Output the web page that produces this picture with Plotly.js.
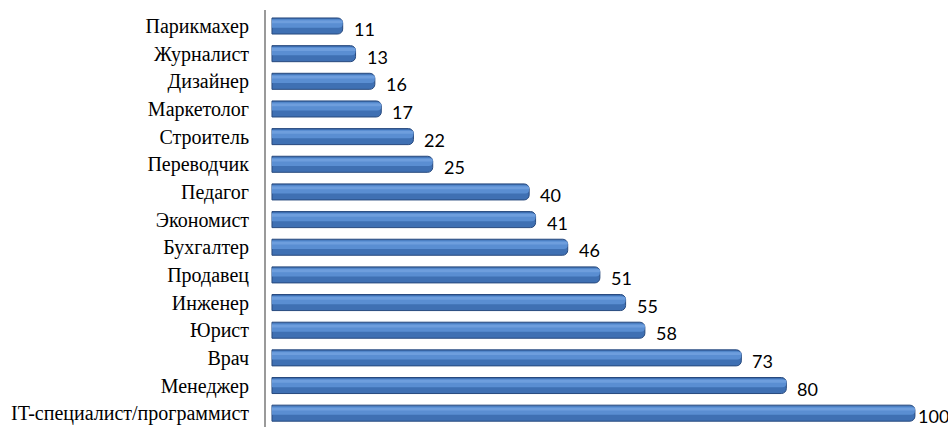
<!DOCTYPE html>
<html>
<head>
<meta charset="utf-8">
<script src="https://cdn.plot.ly/plotly-3.0.1.min.js"></script>
<style>html,body{margin:0;padding:0;background:#fff;}#chart{width:948px;height:437px;}</style>
</head>
<body>
<div id="chart"></div>
<script>
const professions = ["Парикмахер","Журналист","Дизайнер","Маркетолог","Строитель","Переводчик","Педагог","Экономист","Бухгалтер","Продавец","Инженер","Юрист","Врач","Менеджер","IT-специалист/программист"];
const values = [11,13,16,17,22,25,40,41,46,51,55,58,73,80,100];

const base = {
  type: 'bar', orientation: 'h', y: professions, x: values,
  hoverinfo: 'skip'
};
const traces = [
  Object.assign({}, base, {
    width: 0.58,
    marker: {color: '#3F70B3', line: {color: '#284A7E', width: 1}, cornerradius: 5}
  }),
  Object.assign({}, base, {
    width: 0.3, offset: -0.24,
    marker: {color: '#5A8ED2', line: {width: 0}, cornerradius: 4}
  }),
  Object.assign({}, base, {
    width: 0.1, offset: -0.2,
    marker: {color: '#6E9EDD', line: {width: 0}, cornerradius: 3}
  })
];
const xMax = 103.9;
const annotations = professions.map((p, i) => ({
  x: values[i], y: p, xref: 'x', yref: 'y',
  text: String(values[i]), showarrow: false,
  xanchor: 'left', yanchor: 'middle',
  xshift: values[i] > 95 ? 1 : 9, yshift: -3,
  font: {family: 'Lato, "Open Sans", sans-serif', size: 18, color: '#000'}
}));
const layout = {
  width: 948, height: 437,
  margin: {l: 266, r: 8, t: 10, b: 10},
  paper_bgcolor: '#fff', plot_bgcolor: '#fff',
  showlegend: false, barmode: 'overlay',
  annotations: annotations,
  xaxis: {range: [-0.93, xMax], showgrid: false, zeroline: false, showticklabels: false, showline: false, ticks: ''},
  yaxis: {
    type: 'category', autorange: 'reversed', showgrid: false, zeroline: false,
    showline: true, linecolor: '#9a9a9a', linewidth: 2,
    ticks: 'outside', ticklen: 11, tickcolor: 'rgba(0,0,0,0)',
    tickfont: {family: '"Liberation Serif", "Times New Roman", serif', size: 20, color: '#000'}
  }
};
Plotly.newPlot('chart', traces, layout, {displayModeBar: false, staticPlot: true});
</script>
</body>
</html>
